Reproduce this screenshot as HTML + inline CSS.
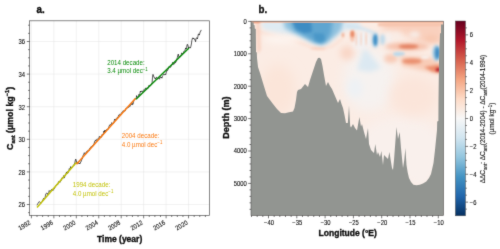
<!DOCTYPE html>
<html lang="en"><head><meta charset="utf-8"><title>Cant trends</title>
<style>html,body{margin:0;padding:0;background:#fff}body{width:500px;height:249px;overflow:hidden}svg{display:block}text{font-family:"Liberation Sans", Arial, sans-serif}</style>
</head><body>
<svg width="500" height="249" viewBox="0 0 500 249">
<defs><filter id="soft" x="0" y="0" width="100%" height="100%" color-interpolation-filters="sRGB"><feConvolveMatrix order="3" kernelMatrix="0.015 0.075 0.015 0.075 0.64 0.075 0.015 0.075 0.015" edgeMode="duplicate" preserveAlpha="true"/></filter></defs>
<g filter="url(#soft)">
<rect width="500" height="249" fill="#fff"/>
<g id="panel-a">
<path d="M31.40 20.80V215.50M53.85 20.80V215.50M76.30 20.80V215.50M98.75 20.80V215.50M121.20 20.80V215.50M143.65 20.80V215.50M166.10 20.80V215.50M188.55 20.80V215.50M29.60 204.50H209.50M29.60 171.90H209.50M29.60 139.30H209.50M29.60 106.70H209.50M29.60 74.10H209.50M29.60 41.50H209.50" stroke="#e4e4e4" stroke-width="0.5" fill="none"/>
<polyline points="37.0,205.3 37.5,204.2 37.9,203.5 38.4,202.6 38.9,201.9 39.4,201.6 39.8,202.1 40.3,202.9 40.8,202.8 41.2,203.1 41.7,202.2 42.2,201.7 42.6,200.0 43.1,200.3 43.6,198.2 44.0,198.6 44.5,198.7 45.0,198.0 45.4,195.8 45.9,193.7 46.4,193.4 46.8,193.1 47.3,193.3 47.8,194.7 48.2,193.4 48.7,192.5 49.2,190.6 49.6,191.2 50.1,191.2 50.6,190.7 51.0,190.6 51.5,189.5 52.0,190.4 52.4,189.9 52.9,190.6 53.4,188.7 53.8,189.1 54.3,188.8 54.8,187.6 55.3,187.0 55.7,185.8 56.2,185.2 56.7,185.3 57.1,184.1 57.6,184.8 58.1,183.6 58.5,181.7 59.0,181.9 59.5,181.5 59.9,182.4 60.4,181.5 60.9,180.9 61.3,179.6 61.8,178.3 62.3,177.6 62.7,178.5 63.2,177.5 63.7,175.6 64.1,178.1 64.6,176.3 65.1,176.3 65.5,174.2 66.0,173.9 66.5,172.1 66.9,173.9 67.4,171.6 67.9,173.1 68.3,171.8 68.8,170.9 69.3,168.6 69.8,169.6 70.2,168.7 70.7,166.6 71.2,167.9 71.6,167.9 72.1,166.9 72.6,166.5 73.0,165.7 73.5,165.3 74.0,165.5 74.4,164.0 74.9,162.4 75.4,159.9 75.8,159.1 76.3,160.9 76.8,163.5 77.2,161.9 77.7,162.6 78.2,162.9 78.6,162.9 79.1,163.9 79.6,163.1 80.0,163.7 80.5,162.1 81.0,161.9 81.4,160.8 81.9,158.5 82.4,158.8 82.8,156.4 83.3,155.1 83.8,154.2 84.3,152.7 84.7,153.3 85.2,154.7 85.7,154.2 86.1,152.0 86.6,152.4 87.1,151.1 87.5,152.2 88.0,150.3 88.5,149.8 88.9,150.8 89.4,150.3 89.9,148.0 90.3,147.8 90.8,146.9 91.3,146.4 91.7,146.5 92.2,145.9 92.7,145.6 93.1,146.1 93.6,144.2 94.1,144.5 94.5,141.8 95.0,140.6 95.5,140.3 95.9,141.2 96.4,140.2 96.9,139.2 97.3,139.4 97.8,138.7 98.3,139.0 98.7,140.0 99.2,136.5 99.7,136.7 100.2,137.6 100.6,136.7 101.1,137.4 101.6,136.8 102.0,134.4 102.5,134.4 103.0,134.2 103.4,134.9 103.9,131.0 104.4,132.5 104.8,130.2 105.3,132.3 105.8,130.3 106.2,131.0 106.7,129.6 107.2,129.0 107.6,129.9 108.1,128.7 108.6,127.5 109.0,126.5 109.5,125.2 110.0,125.0 110.4,124.5 110.9,125.3 111.4,124.4 111.8,122.6 112.3,123.3 112.8,123.9 113.2,123.3 113.7,123.2 114.2,121.0 114.7,119.1 115.1,119.9 115.6,119.2 116.1,118.8 116.5,118.4 117.0,117.6 117.5,118.0 117.9,117.1 118.4,116.2 118.9,114.9 119.3,115.2 119.8,114.3 120.3,114.6 120.7,113.9 121.2,113.8 121.7,112.9 122.1,112.0 122.6,112.3 123.1,110.8 123.5,110.9 124.0,111.4 124.5,110.0 124.9,111.1 125.4,110.1 125.9,108.4 126.3,108.4 126.8,108.5 127.3,107.3 127.7,107.6 128.2,107.2 128.7,107.5 129.2,106.4 129.6,106.2 130.1,106.4 130.6,104.5 131.0,104.2 131.5,104.5 132.0,102.8 132.4,104.6 132.9,104.5 133.4,102.7 133.8,100.8 134.3,100.0 134.8,99.0 135.2,99.1 135.7,98.9 136.2,98.6 136.6,95.6 137.1,97.1 137.6,97.4 138.0,96.9 138.5,96.1 139.0,94.0 139.4,94.5 139.9,93.6 140.4,91.1 140.8,92.0 141.3,91.1 141.8,91.1 142.2,91.6 142.7,92.1 143.2,90.3 143.6,90.0 144.1,90.3 144.6,90.3 145.1,88.5 145.5,88.5 146.0,87.8 146.5,89.2 146.9,88.5 147.4,88.7 147.9,88.0 148.3,88.1 148.8,85.5 149.3,85.4 149.7,86.1 150.2,85.6 150.7,85.6 151.1,84.5 151.6,84.1 152.1,82.8 152.5,77.2 153.0,74.4 153.5,76.3 153.9,76.5 154.4,78.0 154.9,78.0 155.3,79.0 155.8,78.0 156.3,77.3 156.7,77.2 157.2,78.5 157.7,79.3 158.1,78.7 158.6,77.9 159.1,78.6 159.6,79.2 160.0,76.5 160.5,77.3 161.0,77.8 161.4,77.1 161.9,78.2 162.4,76.5 162.8,75.5 163.3,75.1 163.8,74.2 164.2,74.1 164.7,74.8 165.2,74.4 165.6,75.0 166.1,73.0 166.6,70.5 167.0,70.4 167.5,70.7 168.0,69.2 168.4,69.0 168.9,66.7 169.4,66.7 169.8,67.1 170.3,67.4 170.8,67.0 171.2,65.6 171.7,64.9 172.2,64.9 172.6,62.5 173.1,62.6 173.6,64.5 174.1,64.1 174.5,63.8 175.0,62.4 175.5,62.9 175.9,61.1 176.4,61.2 176.9,58.9 177.3,57.7 177.8,55.4 178.3,54.1 178.7,56.6 179.2,56.6 179.7,56.5 180.1,56.8 180.6,55.7 181.1,55.7 181.5,53.2 182.0,52.8 182.5,54.1 182.9,54.0 183.4,53.2 183.9,51.3 184.3,51.2 184.8,50.7 185.3,49.2 185.7,47.9 186.2,49.0 186.7,47.3 187.1,44.5 187.6,44.5 188.1,46.1 188.5,48.1 189.0,47.1 189.5,47.3 190.0,47.6 190.4,48.1 190.9,46.3 191.4,44.0 191.8,40.7 192.3,38.7 192.8,37.8 193.2,38.9 193.7,38.1 194.2,39.1 194.6,39.0 195.1,40.3 195.6,41.7 196.0,38.7 196.5,37.8 197.0,38.2 197.4,39.0 197.9,36.5 198.4,34.0 198.8,33.9 199.3,35.1 199.8,33.3 200.2,31.6 200.7,31.4 201.2,29.9" fill="none" stroke="#000" stroke-width="0.65" stroke-linejoin="round"/>
<line x1="37" y1="207.5" x2="76.5" y2="162.3" stroke="#c3c30a" stroke-width="1.5"/>
<line x1="76.5" y1="164.2" x2="135.6" y2="98.2" stroke="#fb7a12" stroke-width="1.5"/>
<line x1="136" y1="99.2" x2="189" y2="48" stroke="#0c8c0c" stroke-width="1.5"/>
<text transform="translate(72.8,187.4) scale(0.91,1)" font-size="6.8" fill="#c3c30a">1994 decade:</text>
<text transform="translate(72.8,195.8) scale(0.91,1)" font-size="6.8" fill="#c3c30a">4.0 µmol dec<tspan dy="-2.7" font-size="4.8">−1</tspan></text>
<text transform="translate(121.8,138.2) scale(0.91,1)" font-size="6.8" fill="#fb7a12">2004 decade:</text>
<text transform="translate(121.8,146.6) scale(0.91,1)" font-size="6.8" fill="#fb7a12">4.0 µmol dec<tspan dy="-2.7" font-size="4.8">−1</tspan></text>
<text transform="translate(107.2,65.0) scale(0.91,1)" font-size="6.8" fill="#0c8c0c">2014 decade:</text>
<text transform="translate(107.2,73.4) scale(0.91,1)" font-size="6.8" fill="#0c8c0c">3.4 µmol dec<tspan dy="-2.7" font-size="4.8">−1</tspan></text>
<rect x="29.60" y="20.80" width="179.90" height="194.70" fill="none" stroke="#555" stroke-width="0.7"/>
<path d="M31.40 215.50v2.8M37.01 215.50v1.5M42.62 215.50v1.5M48.24 215.50v1.5M53.85 215.50v2.8M59.46 215.50v1.5M65.08 215.50v1.5M70.69 215.50v1.5M76.30 215.50v2.8M81.91 215.50v1.5M87.52 215.50v1.5M93.14 215.50v1.5M98.75 215.50v2.8M104.36 215.50v1.5M109.97 215.50v1.5M115.59 215.50v1.5M121.20 215.50v2.8M126.81 215.50v1.5M132.43 215.50v1.5M138.04 215.50v1.5M143.65 215.50v2.8M149.26 215.50v1.5M154.88 215.50v1.5M160.49 215.50v1.5M166.10 215.50v2.8M171.71 215.50v1.5M177.32 215.50v1.5M182.94 215.50v1.5M188.55 215.50v2.8M194.16 215.50v1.5M199.77 215.50v1.5M205.39 215.50v1.5M29.60 212.65h-1.5M29.60 204.50h-2.8M29.60 196.35h-1.5M29.60 188.20h-1.5M29.60 180.05h-1.5M29.60 171.90h-2.8M29.60 163.75h-1.5M29.60 155.60h-1.5M29.60 147.45h-1.5M29.60 139.30h-2.8M29.60 131.15h-1.5M29.60 123.00h-1.5M29.60 114.85h-1.5M29.60 106.70h-2.8M29.60 98.55h-1.5M29.60 90.40h-1.5M29.60 82.25h-1.5M29.60 74.10h-2.8M29.60 65.95h-1.5M29.60 57.80h-1.5M29.60 49.65h-1.5M29.60 41.50h-2.8M29.60 33.35h-1.5M29.60 25.20h-1.5" stroke="#222" stroke-width="0.6" fill="none"/>
<text transform="translate(25.0,207.3) scale(0.9,1)" font-size="6.5" text-anchor="end" fill="#151515" stroke="#151515" stroke-width="0.12">26</text>
<text transform="translate(25.0,174.7) scale(0.9,1)" font-size="6.5" text-anchor="end" fill="#151515" stroke="#151515" stroke-width="0.12">28</text>
<text transform="translate(25.0,142.1) scale(0.9,1)" font-size="6.5" text-anchor="end" fill="#151515" stroke="#151515" stroke-width="0.12">30</text>
<text transform="translate(25.0,109.5) scale(0.9,1)" font-size="6.5" text-anchor="end" fill="#151515" stroke="#151515" stroke-width="0.12">32</text>
<text transform="translate(25.0,76.9) scale(0.9,1)" font-size="6.5" text-anchor="end" fill="#151515" stroke="#151515" stroke-width="0.12">34</text>
<text transform="translate(25.0,44.3) scale(0.9,1)" font-size="6.5" text-anchor="end" fill="#151515" stroke="#151515" stroke-width="0.12">36</text>
<text transform="translate(31.1,223.9) rotate(-31) scale(0.9,1)" font-size="6.5" text-anchor="end" fill="#151515" stroke="#151515" stroke-width="0.12">1992</text>
<text transform="translate(53.5,223.9) rotate(-31) scale(0.9,1)" font-size="6.5" text-anchor="end" fill="#151515" stroke="#151515" stroke-width="0.12">1996</text>
<text transform="translate(76.0,223.9) rotate(-31) scale(0.9,1)" font-size="6.5" text-anchor="end" fill="#151515" stroke="#151515" stroke-width="0.12">2000</text>
<text transform="translate(98.5,223.9) rotate(-31) scale(0.9,1)" font-size="6.5" text-anchor="end" fill="#151515" stroke="#151515" stroke-width="0.12">2004</text>
<text transform="translate(120.9,223.9) rotate(-31) scale(0.9,1)" font-size="6.5" text-anchor="end" fill="#151515" stroke="#151515" stroke-width="0.12">2008</text>
<text transform="translate(143.3,223.9) rotate(-31) scale(0.9,1)" font-size="6.5" text-anchor="end" fill="#151515" stroke="#151515" stroke-width="0.12">2012</text>
<text transform="translate(165.8,223.9) rotate(-31) scale(0.9,1)" font-size="6.5" text-anchor="end" fill="#151515" stroke="#151515" stroke-width="0.12">2016</text>
<text transform="translate(188.2,223.9) rotate(-31) scale(0.9,1)" font-size="6.5" text-anchor="end" fill="#151515" stroke="#151515" stroke-width="0.12">2020</text>
<text transform="translate(119.6,241.9) scale(0.925,1)" font-size="9.2" font-weight="bold" fill="#111" stroke="#111" stroke-width="0.38" text-anchor="middle">Time (year)</text>
<text transform="translate(12.5,118.4) rotate(-90) scale(0.955,1)" font-size="9.3" font-weight="bold" fill="#111" stroke="#111" stroke-width="0.38" text-anchor="middle">C<tspan dy="2.5" font-size="5.7">ant</tspan><tspan dy="-2.5"> (µmol kg</tspan><tspan dy="-3.6" font-size="5.9">−1</tspan><tspan dy="3.6">)</tspan></text>
<text transform="translate(36.6,13.1) scale(0.86,1)" font-size="11.4" font-weight="bold" fill="#111" stroke="#111" stroke-width="0.38">a.</text>
</g>
<g id="panel-b">
<defs>
<clipPath id="cb"><rect x="251.00" y="21.20" width="192.50" height="194.30"/></clipPath>
<filter id="b0_6" x="-50%" y="-50%" width="200%" height="200%"><feGaussianBlur stdDeviation="0.6"/></filter>
<filter id="b1" x="-50%" y="-50%" width="200%" height="200%"><feGaussianBlur stdDeviation="1"/></filter>
<filter id="b1_2" x="-50%" y="-50%" width="200%" height="200%"><feGaussianBlur stdDeviation="1.2"/></filter>
<filter id="b1_3" x="-50%" y="-50%" width="200%" height="200%"><feGaussianBlur stdDeviation="1.3"/></filter>
<filter id="b1_4" x="-50%" y="-50%" width="200%" height="200%"><feGaussianBlur stdDeviation="1.4"/></filter>
<filter id="b1_5" x="-50%" y="-50%" width="200%" height="200%"><feGaussianBlur stdDeviation="1.5"/></filter>
<filter id="b2" x="-50%" y="-50%" width="200%" height="200%"><feGaussianBlur stdDeviation="2"/></filter>
<filter id="b2_5" x="-50%" y="-50%" width="200%" height="200%"><feGaussianBlur stdDeviation="2.5"/></filter>
<filter id="b3" x="-50%" y="-50%" width="200%" height="200%"><feGaussianBlur stdDeviation="3"/></filter>
<filter id="b4" x="-50%" y="-50%" width="200%" height="200%"><feGaussianBlur stdDeviation="4"/></filter>
<filter id="b6" x="-50%" y="-50%" width="200%" height="200%"><feGaussianBlur stdDeviation="6"/></filter>
<linearGradient id="cbar" x1="0" y1="0" x2="0" y2="1">
<stop offset="0%" stop-color="#67001f"/>
<stop offset="10%" stop-color="#b2182b"/>
<stop offset="20%" stop-color="#d6604d"/>
<stop offset="30%" stop-color="#f4a582"/>
<stop offset="40%" stop-color="#fddbc7"/>
<stop offset="50%" stop-color="#f7f7f7"/>
<stop offset="60%" stop-color="#d1e5f0"/>
<stop offset="70%" stop-color="#92c5de"/>
<stop offset="80%" stop-color="#4393c3"/>
<stop offset="90%" stop-color="#2166ac"/>
<stop offset="100%" stop-color="#053061"/>
</linearGradient>
</defs>
<g clip-path="url(#cb)">
<rect x="250" y="20" width="195" height="197" fill="#fbece4"/>
<ellipse cx="278.0" cy="90.0" rx="18.0" ry="26.0" fill="#fbe5d9" filter="url(#b6)" opacity="1"/>
<ellipse cx="400.0" cy="150.0" rx="45.0" ry="35.0" fill="#f9f0ec" filter="url(#b6)" opacity="1"/>
<ellipse cx="369.0" cy="80.0" rx="26.0" ry="32.0" fill="#f6f2f0" filter="url(#b6)" opacity="1"/>
<ellipse cx="355.0" cy="88.0" rx="8.0" ry="10.0" fill="#eef1f4" filter="url(#b3)" opacity="1"/>
<ellipse cx="414.0" cy="96.0" rx="24.0" ry="20.0" fill="#fbe5da" filter="url(#b6)" opacity="1"/>
<ellipse cx="421.0" cy="160.0" rx="12.0" ry="28.0" fill="#f9f0ec" filter="url(#b4)" opacity="1"/>
<polygon points="382.0,19.0 444.0,19.0 444.0,44.0 420.0,43.0 400.0,32.0 382.0,30.0" fill="#f9d0bd" filter="url(#b3)" opacity="1"/>
<rect x="378" y="23" width="66" height="3" fill="#f7c3ab" filter="url(#b1)"/>
<ellipse cx="347.0" cy="53.0" rx="7.0" ry="7.0" fill="#f9d6c6" filter="url(#b3)" opacity="1"/>
<ellipse cx="391.0" cy="58.5" rx="7.0" ry="4.5" fill="#f8cbb6" filter="url(#b2)" opacity="1"/>
<polyline points="257.0,31.0 275.0,36.5 295.0,41.0 310.0,46.5 322.0,49.0 333.0,46.0 342.0,39.0" fill="none" stroke="#fbe1d5" stroke-width="2.5" stroke-linecap="round" stroke-linejoin="round" filter="url(#b1_5)"/>
<ellipse cx="318.0" cy="48.5" rx="8.0" ry="1.5" fill="#f9d3c2" filter="url(#b1)" opacity="1"/>
<polygon points="255.5,20.0 260.5,20.0 261.0,50.0 257.0,54.0" fill="#fad6c6" filter="url(#b1_5)" opacity="1"/>
<ellipse cx="282.0" cy="39.0" rx="18.0" ry="5.0" fill="#fdf4ef" filter="url(#b3)" opacity="1"/>
<polygon points="262.0,19.0 360.0,19.0 360.0,28.0 348.0,29.5 342.0,31.5 338.0,35.0 333.0,39.0 327.0,43.5 322.0,45.5 318.0,44.7 312.0,43.0 306.0,40.0 300.0,37.0 295.0,34.5 280.0,33.0 265.0,30.0 261.5,27.0" fill="#dfebf3" filter="url(#b2)" opacity="1"/>
<polygon points="283.0,19.0 344.0,19.0 341.0,30.0 337.0,34.5 332.0,38.5 327.0,42.5 322.0,44.5 317.0,43.5 311.0,41.0 305.0,38.0 299.0,35.0 292.0,32.0 285.0,28.5" fill="#8fc1de" filter="url(#b2)" opacity="1"/>
<polygon points="290.0,19.0 333.0,19.0 331.0,33.0 327.0,40.0 322.0,43.5 315.0,42.0 308.0,38.0 301.0,34.0 294.0,30.0" fill="#5ea5d0" filter="url(#b2)" opacity="1"/>
<polygon points="292.0,20.0 311.0,20.0 312.0,32.0 304.0,33.0 296.0,29.5" fill="#3d8cc3" filter="url(#b1_5)" opacity="1"/>
<polygon points="313.0,33.0 324.0,33.5 325.0,40.0 321.0,42.5 315.0,40.5" fill="#4a97c8" filter="url(#b1_5)" opacity="1"/>
<polyline points="346.0,25.5 360.0,28.0 372.0,32.5" fill="none" stroke="#d3e5f0" stroke-width="4" stroke-linecap="round" stroke-linejoin="round" filter="url(#b1_5)"/>
<ellipse cx="362.0" cy="41.0" rx="9.0" ry="10.0" fill="#f3f1f2" filter="url(#b2_5)" opacity="1"/>
<ellipse cx="388.0" cy="40.0" rx="4.0" ry="8.0" fill="#f6f0ee" filter="url(#b2)" opacity="1"/>
<ellipse cx="356.5" cy="39.0" rx="0.8" ry="7.0" fill="#f7c8b2" filter="url(#b1)" opacity="1"/>
<ellipse cx="361.0" cy="39.0" rx="0.8" ry="7.0" fill="#f7c8b2" filter="url(#b1)" opacity="1"/>
<ellipse cx="366.0" cy="39.0" rx="0.8" ry="7.0" fill="#f7c8b2" filter="url(#b1)" opacity="1"/>
<ellipse cx="358.8" cy="39.0" rx="0.8" ry="7.0" fill="#eef1f4" filter="url(#b1)" opacity="1"/>
<ellipse cx="363.5" cy="39.0" rx="0.8" ry="7.0" fill="#eef1f4" filter="url(#b1)" opacity="1"/>
<ellipse cx="369.0" cy="39.0" rx="0.8" ry="7.0" fill="#eef1f4" filter="url(#b1)" opacity="1"/>
<ellipse cx="352.4" cy="36.0" rx="2.5" ry="6.0" fill="#f7c6b0" filter="url(#b1)" opacity="1"/>
<ellipse cx="343.0" cy="35.0" rx="1.1" ry="2.6" fill="#f0a585" filter="url(#b1)" opacity="1"/>
<ellipse cx="352.4" cy="34.0" rx="1.7" ry="3.2" fill="#e78560" filter="url(#b1)" opacity="1"/>
<ellipse cx="375.3" cy="40.0" rx="3.6" ry="8.0" fill="#b3d3e8" filter="url(#b1_5)" opacity="1"/>
<ellipse cx="375.3" cy="40.0" rx="2.1" ry="5.8" fill="#408fc5" filter="url(#b1_2)" opacity="1"/>
<ellipse cx="382.5" cy="39.5" rx="2.5" ry="5.5" fill="#bfdaeb" filter="url(#b1_5)" opacity="1"/>
<ellipse cx="407.0" cy="46.5" rx="22.0" ry="4.0" fill="#f6c0a9" filter="url(#b2)" opacity="1"/>
<ellipse cx="408.5" cy="46.5" rx="10.0" ry="2.1" fill="#e27c5b" filter="url(#b1_4)" opacity="1"/>
<ellipse cx="414.7" cy="34.5" rx="5.5" ry="3.0" fill="#f7eeea" filter="url(#b2)" opacity="1"/>
<ellipse cx="396.0" cy="35.5" rx="5.0" ry="3.0" fill="#f9ece6" filter="url(#b2)" opacity="1"/>
<ellipse cx="431.0" cy="38.5" rx="7.0" ry="3.5" fill="#f8c8b1" filter="url(#b2)" opacity="1"/>
<ellipse cx="399.0" cy="54.0" rx="6.0" ry="2.3" fill="#bcd9eb" filter="url(#b1)" opacity="1"/>
<polygon points="400.0,56.0 428.0,57.0 440.0,62.0 440.0,74.0 425.0,71.0 402.0,66.0" fill="#f8ccb7" filter="url(#b2)" opacity="1"/>
<ellipse cx="412.0" cy="61.3" rx="10.0" ry="2.8" fill="#ea8f6e" filter="url(#b1_5)" opacity="1"/>
<ellipse cx="425.0" cy="57.0" rx="4.0" ry="1.8" fill="#f8efeb" filter="url(#b1)" opacity="1"/>
<polygon points="424.0,67.0 440.0,64.5 440.0,73.0 432.0,71.5" fill="#ec8d6c" filter="url(#b1_5)" opacity="1"/>
<ellipse cx="438.5" cy="69.7" rx="2.8" ry="1.9" fill="#b8202e" filter="url(#b1)" opacity="1"/>
<ellipse cx="436.5" cy="53.0" rx="4.0" ry="8.0" fill="#a5cde5" filter="url(#b1_5)" opacity="1"/>
<ellipse cx="437.3" cy="53.0" rx="2.3" ry="6.3" fill="#3585bf" filter="url(#b1_4)" opacity="1"/>
<polygon points="363.0,50.0 367.0,50.0 381.0,68.0 370.0,72.0 357.0,70.0" fill="#dce9f2" filter="url(#b2_5)" opacity="1"/>
<rect x="250" y="21" width="195" height="1.7" fill="#f4b59b" filter="url(#b0_6)"/>
<rect x="251" y="21.2" width="9" height="1.8" fill="#ea9576" filter="url(#b1)"/>
<polygon points="251.0,22.3 253.6,22.3 253.8,25.0 254.6,25.2 254.8,28.5 255.8,29.0 256.0,52.0 256.8,52.5 257.0,58.0 258.0,67.0 260.0,73.0 263.0,83.0 267.0,96.0 273.0,104.0 277.0,109.0 281.0,113.0 285.0,113.2 289.0,112.3 293.0,111.4 294.5,108.0 296.0,100.0 297.0,92.0 298.0,90.0 301.0,89.0 303.0,86.5 305.0,84.0 306.5,85.5 308.0,87.0 310.0,80.0 313.0,71.0 316.0,62.0 318.0,58.0 319.5,57.8 321.0,59.0 322.5,66.0 324.0,75.0 326.0,86.0 328.0,82.0 330.0,86.0 332.0,89.0 335.0,96.0 338.0,103.0 340.0,99.0 341.5,104.0 343.0,108.0 344.5,115.0 346.0,123.0 347.8,123.0 349.0,105.5 350.2,126.0 351.0,127.5 353.0,124.0 355.0,128.0 357.0,130.5 359.4,117.0 361.0,126.5 362.0,124.0 364.0,132.0 366.0,139.0 368.0,128.0 369.0,144.0 371.0,150.0 374.0,153.0 375.3,144.0 377.0,155.0 378.0,152.0 380.0,157.0 381.4,151.0 383.0,165.0 384.0,155.0 386.0,157.0 388.0,159.0 389.4,152.0 391.0,162.0 392.0,168.0 393.0,170.0 394.0,160.0 395.5,140.0 396.5,127.0 398.0,139.0 399.7,132.0 401.0,148.0 403.0,168.0 404.3,160.0 405.4,148.0 406.5,165.0 407.7,172.6 409.0,178.0 411.0,182.0 413.4,184.7 416.5,185.2 419.8,184.7 423.0,183.5 426.3,181.5 429.0,178.0 431.0,174.0 433.5,163.0 435.0,150.0 435.6,144.0 437.0,130.0 437.2,121.5 438.4,121.0 438.5,100.0 439.0,60.0 439.5,45.0 440.0,33.5 441.0,33.0 441.0,24.5 444.0,24.5 444.0,216.0 251.0,216.0" fill="#929591"/>
</g>
<rect x="251.00" y="21.20" width="192.50" height="194.30" fill="none" stroke="#555" stroke-width="0.6"/>
<path d="M251.52 215.50v1.5M257.18 215.50v1.5M262.84 215.50v1.5M268.50 215.50v2.8M274.16 215.50v1.5M279.82 215.50v1.5M285.48 215.50v1.5M291.14 215.50v1.5M296.80 215.50v2.8M302.46 215.50v1.5M308.12 215.50v1.5M313.78 215.50v1.5M319.44 215.50v1.5M325.10 215.50v2.8M330.76 215.50v1.5M336.42 215.50v1.5M342.08 215.50v1.5M347.74 215.50v1.5M353.40 215.50v2.8M359.06 215.50v1.5M364.72 215.50v1.5M370.38 215.50v1.5M376.04 215.50v1.5M381.70 215.50v2.8M387.36 215.50v1.5M393.02 215.50v1.5M398.68 215.50v1.5M404.34 215.50v1.5M410.00 215.50v2.8M415.66 215.50v1.5M421.32 215.50v1.5M426.98 215.50v1.5M432.64 215.50v1.5M438.30 215.50v2.8M251.00 21.40h-2.8M251.00 27.88h-1.5M251.00 34.36h-1.5M251.00 40.84h-1.5M251.00 47.32h-1.5M251.00 53.80h-2.8M251.00 60.28h-1.5M251.00 66.76h-1.5M251.00 73.24h-1.5M251.00 79.72h-1.5M251.00 86.20h-2.8M251.00 92.68h-1.5M251.00 99.16h-1.5M251.00 105.64h-1.5M251.00 112.12h-1.5M251.00 118.60h-2.8M251.00 125.08h-1.5M251.00 131.56h-1.5M251.00 138.04h-1.5M251.00 144.52h-1.5M251.00 151.00h-2.8M251.00 157.48h-1.5M251.00 163.96h-1.5M251.00 170.44h-1.5M251.00 176.92h-1.5M251.00 183.40h-2.8M251.00 189.88h-1.5M251.00 196.36h-1.5M251.00 202.84h-1.5M251.00 209.32h-1.5" stroke="#222" stroke-width="0.6" fill="none"/>
<text transform="translate(246.8,23.8) scale(0.9,1)" font-size="6.5" text-anchor="end" fill="#151515" stroke="#151515" stroke-width="0.12">0</text>
<text transform="translate(246.8,56.2) scale(0.9,1)" font-size="6.5" text-anchor="end" fill="#151515" stroke="#151515" stroke-width="0.12">1000</text>
<text transform="translate(246.8,88.6) scale(0.9,1)" font-size="6.5" text-anchor="end" fill="#151515" stroke="#151515" stroke-width="0.12">2000</text>
<text transform="translate(246.8,121.0) scale(0.9,1)" font-size="6.5" text-anchor="end" fill="#151515" stroke="#151515" stroke-width="0.12">3000</text>
<text transform="translate(246.8,153.4) scale(0.9,1)" font-size="6.5" text-anchor="end" fill="#151515" stroke="#151515" stroke-width="0.12">4000</text>
<text transform="translate(246.8,185.8) scale(0.9,1)" font-size="6.5" text-anchor="end" fill="#151515" stroke="#151515" stroke-width="0.12">5000</text>
<text transform="translate(269.0,225.0) scale(0.9,1)" font-size="6.5" text-anchor="middle" fill="#151515" stroke="#151515" stroke-width="0.12">−40</text>
<text transform="translate(297.3,225.0) scale(0.9,1)" font-size="6.5" text-anchor="middle" fill="#151515" stroke="#151515" stroke-width="0.12">−35</text>
<text transform="translate(325.6,225.0) scale(0.9,1)" font-size="6.5" text-anchor="middle" fill="#151515" stroke="#151515" stroke-width="0.12">−30</text>
<text transform="translate(353.9,225.0) scale(0.9,1)" font-size="6.5" text-anchor="middle" fill="#151515" stroke="#151515" stroke-width="0.12">−25</text>
<text transform="translate(382.2,225.0) scale(0.9,1)" font-size="6.5" text-anchor="middle" fill="#151515" stroke="#151515" stroke-width="0.12">−20</text>
<text transform="translate(410.5,225.0) scale(0.9,1)" font-size="6.5" text-anchor="middle" fill="#151515" stroke="#151515" stroke-width="0.12">−15</text>
<text transform="translate(438.8,225.0) scale(0.9,1)" font-size="6.5" text-anchor="middle" fill="#151515" stroke="#151515" stroke-width="0.12">−10</text>
<text transform="translate(347.7,235.9) scale(0.925,1)" font-size="9.2" font-weight="bold" fill="#111" stroke="#111" stroke-width="0.38" text-anchor="middle">Longitude (°E)</text>
<text transform="translate(228.7,117.6) rotate(-90) scale(0.985,1)" font-size="9.2" font-weight="bold" fill="#111" stroke="#111" stroke-width="0.38" text-anchor="middle">Depth (m)</text>
<text transform="translate(258.6,13.1) scale(0.86,1)" font-size="11.4" font-weight="bold" fill="#111" stroke="#111" stroke-width="0.38">b.</text>
<rect x="455.40" y="21.00" width="10.10" height="194.80" fill="url(#cbar)" stroke="#555" stroke-width="0.5"/>
<path d="M465.50 209.11h1.4M465.50 202.14h2.6M465.50 195.17h1.4M465.50 188.20h1.4M465.50 181.23h1.4M465.50 174.26h2.6M465.50 167.29h1.4M465.50 160.32h1.4M465.50 153.35h1.4M465.50 146.38h2.6M465.50 139.41h1.4M465.50 132.44h1.4M465.50 125.47h1.4M465.50 118.50h2.6M465.50 111.53h1.4M465.50 104.56h1.4M465.50 97.59h1.4M465.50 90.62h2.6M465.50 83.65h1.4M465.50 76.68h1.4M465.50 69.71h1.4M465.50 62.74h2.6M465.50 55.77h1.4M465.50 48.80h1.4M465.50 41.83h1.4M465.50 34.86h2.6M465.50 27.89h1.4" stroke="#222" stroke-width="0.6" fill="none"/>
<text transform="translate(469.8,204.5) scale(0.9,1)" font-size="6.5" fill="#151515" stroke="#151515" stroke-width="0.12">−6</text>
<text transform="translate(469.8,176.7) scale(0.9,1)" font-size="6.5" fill="#151515" stroke="#151515" stroke-width="0.12">−4</text>
<text transform="translate(469.8,148.8) scale(0.9,1)" font-size="6.5" fill="#151515" stroke="#151515" stroke-width="0.12">−2</text>
<text transform="translate(469.8,120.9) scale(0.9,1)" font-size="6.5" fill="#151515" stroke="#151515" stroke-width="0.12">0</text>
<text transform="translate(469.8,93.0) scale(0.9,1)" font-size="6.5" fill="#151515" stroke="#151515" stroke-width="0.12">2</text>
<text transform="translate(469.8,65.1) scale(0.9,1)" font-size="6.5" fill="#151515" stroke="#151515" stroke-width="0.12">4</text>
<text transform="translate(469.8,37.3) scale(0.9,1)" font-size="6.5" fill="#151515" stroke="#151515" stroke-width="0.12">6</text>
<text transform="translate(485.3,119) rotate(-90) scale(0.915,1)" font-size="7" text-anchor="middle" fill="#151515" stroke="#151515" stroke-width="0.12">ΔΔC<tspan dy="1.4" font-size="4.9">ant</tspan><tspan dy="-1.4">: ΔC</tspan><tspan dy="1.4" font-size="4.9">ant</tspan><tspan dy="-1.4">(2014-2004) - ΔC</tspan><tspan dy="1.4" font-size="4.9">ant</tspan><tspan dy="-1.4">(2004-1994)</tspan></text>
<text transform="translate(494.2,118.5) rotate(-90) scale(0.915,1)" font-size="7" text-anchor="middle" fill="#151515" stroke="#151515" stroke-width="0.12">(µmol kg<tspan dy="-2.7" font-size="4.9">−1</tspan><tspan dy="2.7">)</tspan></text>
</g>
</g>
</svg>
</body></html>
